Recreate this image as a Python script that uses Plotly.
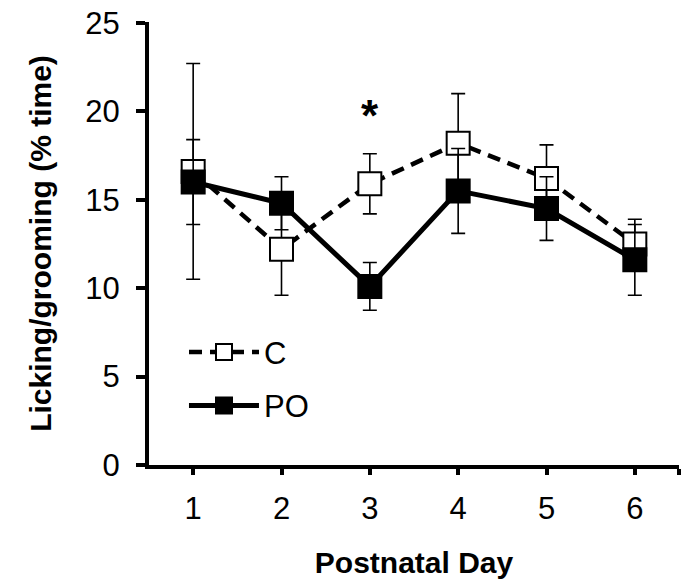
import plotly.graph_objects as go

# Licking/grooming (% time) by postnatal day, mean +/- error
days = [1, 2, 3, 4, 5, 6]
c_mean = [16.6, 12.2, 15.9, 18.2, 16.2, 12.5]
c_err = [6.1, 2.6, 1.7, 2.8, 1.9, 1.4]
po_mean = [16.0, 14.8, 10.1, 15.5, 14.5, 11.6]
po_err = [2.4, 1.5, 1.35, 2.4, 1.8, 2.0]

y_ticks = [0, 5, 10, 15, 20, 25]

# significance marker
sig_day = 3
sig_y = 19.75

FONT = "Liberation Sans, Arial, sans-serif"

fig = go.Figure()

# C: open squares, dashed line
fig.add_trace(go.Scatter(
    x=days, y=c_mean, name="C", legendgroup="c",
    mode="lines+markers",
    line=dict(color="black", width=4.5, dash="13px,8px"),
    marker=dict(symbol="square", size=23, color="white",
                line=dict(color="black", width=2)),
    error_y=dict(type="data", array=c_err, color="black",
                 thickness=1.6, width=7),
))

# PO: filled squares, solid line
fig.add_trace(go.Scatter(
    x=days, y=po_mean, name="PO", legendgroup="po",
    mode="lines+markers",
    line=dict(color="black", width=5),
    marker=dict(symbol="square", size=23, color="black",
                line=dict(color="black", width=2)),
    error_y=dict(type="data", array=po_err, color="black",
                 thickness=1.6, width=7),
))

fig.add_annotation(x=sig_day, y=sig_y, text="<b>*</b>", showarrow=False,
                   font=dict(family=FONT, size=44, color="black"))

fig.update_layout(
    width=685, height=586,
    margin=dict(l=149, r=6, t=14, b=121),
    paper_bgcolor="white", plot_bgcolor="white",
    font=dict(family=FONT, size=31, color="black"),
    showlegend=True,
    legend=dict(x=0.066, y=0.315, xanchor="left", yanchor="top",
                bgcolor="rgba(0,0,0,0)", tracegroupgap=10,
                itemwidth=70, font=dict(size=31)),
    xaxis=dict(
        range=[0.5, 6.5],
        tickvals=[1, 2, 3, 4, 5, 6, 6.5],
        ticktext=["1", "2", "3", "4", "5", "6", ""],
        ticks="outside", ticklen=6, tickwidth=4, tickcolor="black",
        showline=True, linewidth=4, linecolor="black",
        showgrid=False, zeroline=False,
        ticklabelstandoff=7,
        title=dict(text="<b>Postnatal Day</b>", standoff=28,
                   font=dict(size=30)),
    ),
    yaxis=dict(
        range=[0, 25.05], tickvals=y_ticks,
        ticks="outside", ticklen=9, tickwidth=4, tickcolor="black",
        showline=True, linewidth=4, linecolor="black",
        showgrid=False, zeroline=False,
        ticklabelstandoff=10, ticklabeloverflow="allow",
        title=dict(text="<b>Licking/grooming (% time)</b>", standoff=26,
                   font=dict(size=30)),
    ),
)

# drop the page's default 8px body margin so the figure fills the window
fig.write_html("out.html", config={"displayModeBar": False},
               post_script="document.body.style.margin='0';")
